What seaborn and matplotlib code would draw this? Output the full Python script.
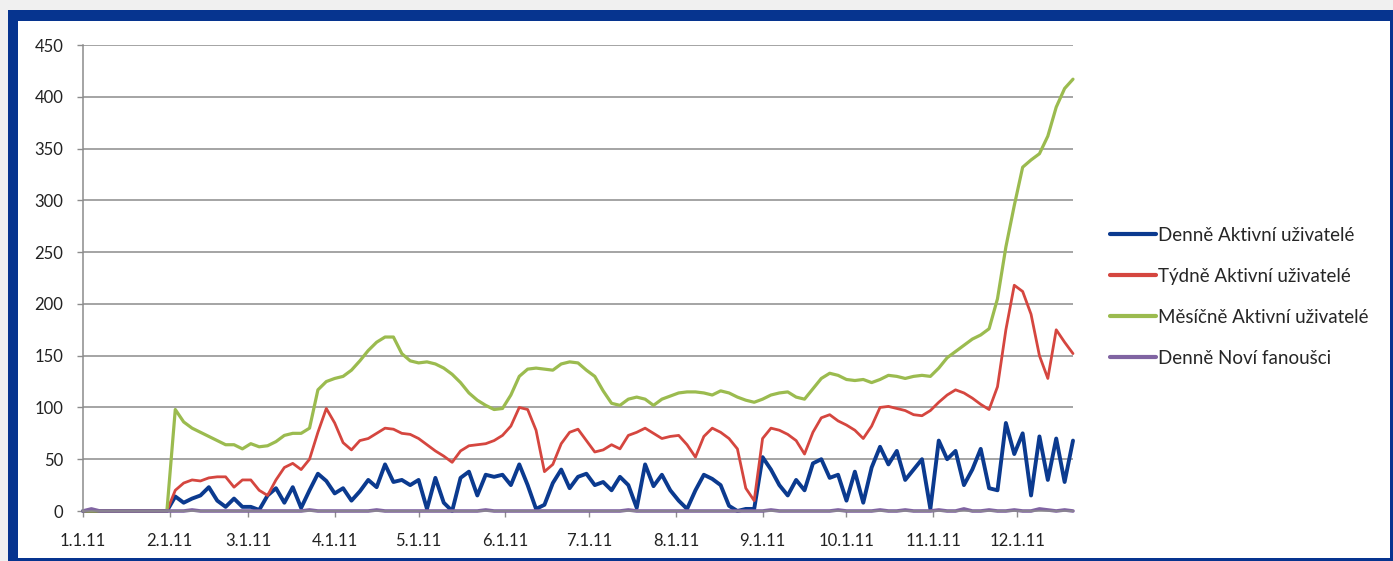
import matplotlib
matplotlib.use('Agg')
from matplotlib import pyplot as plt
from matplotlib.patches import Rectangle
import seaborn as sns
import pandas as pd

# values every 3 days, 1.1.2011 - 21.12.2011
datum = pd.date_range('2011-01-01', periods=119, freq='3D')

denne_aktivni = [
    0, 0, 0, 0, 0, 0, 0, 0, 0, 0, 0,
    14, 8, 12, 15, 23, 10, 4, 12, 4, 4,
    1, 15, 22, 8, 23, 3, 20, 36, 29, 17,
    22, 10, 19, 30, 23, 45, 28, 30, 25, 30,
    2, 32, 8, 0, 32, 38, 15, 35, 33, 35,
    25, 45, 25, 2, 6, 27, 40, 22, 33, 36,
    25, 28, 20, 33, 25, 3, 45, 24, 35, 20,
    10, 2, 20, 35, 31, 25, 5, 0, 2, 2,
    52, 40, 25, 15, 30, 20, 46, 50, 32, 35,
    10, 38, 8, 42, 62, 45, 58, 30, 40, 50,
    2, 68, 50, 58, 25, 40, 60, 22, 20, 85,
    55, 75, 15, 72, 30, 70, 28, 68,
]

tydne_aktivni = [
    0, 0, 0, 0, 0, 0, 0, 0, 0, 0, 0,
    20, 27, 30, 29, 32, 33, 33, 23, 30, 30,
    20, 15, 30, 42, 46, 40, 50, 76, 99, 85,
    66, 59, 68, 70, 75, 80, 79, 75, 74, 70,
    64, 58, 53, 47, 58, 63, 64, 65, 68, 73,
    82, 100, 98, 78, 38, 45, 65, 76, 79, 68,
    57, 59, 64, 60, 73, 76, 80, 75, 70, 72,
    73, 64, 52, 72, 80, 76, 70, 60, 22, 10,
    70, 80, 78, 74, 68, 55, 76, 90, 93, 87,
    83, 78, 70, 82, 100, 101, 99, 97, 93, 92,
    97, 105, 112, 117, 114, 109, 103, 98, 120, 175,
    218, 212, 190, 150, 128, 175, 163, 152,
]

mesicne_aktivni = [
    0, 0, 0, 0, 0, 0, 0, 0, 0, 0, 0,
    98, 86, 80, 76, 72, 68, 64, 64, 60, 65,
    62, 63, 67, 73, 75, 75, 80, 117, 125, 128,
    130, 136, 145, 155, 163, 168, 168, 152, 145, 143,
    144, 142, 138, 132, 124, 114, 107, 102, 98, 99,
    112, 130, 137, 138, 137, 136, 142, 144, 143, 136,
    130, 116, 104, 102, 108, 110, 108, 102, 108, 111,
    114, 115, 115, 114, 112, 116, 114, 110, 107, 105,
    108, 112, 114, 115, 110, 108, 118, 128, 133, 131,
    127, 126, 127, 124, 127, 131, 130, 128, 130, 131,
    130, 138, 148, 154, 160, 166, 170, 176, 205, 255,
    295, 332, 339, 345, 362, 390, 408, 417,
]

denne_novi = [
    0, 2, 0, 0, 0, 0, 0, 0, 0, 0, 0,
    0, 0, 1, 0, 0, 0, 0, 0, 0, 0,
    0, 0, 0, 0, 0, 0, 1, 0, 0, 0,
    0, 0, 0, 0, 1, 0, 0, 0, 0, 0,
    0, 0, 0, 0, 0, 0, 0, 1, 0, 0,
    0, 0, 0, 0, 0, 0, 0, 0, 0, 0,
    0, 0, 0, 0, 1, 0, 0, 0, 0, 0,
    0, 0, 0, 0, 0, 0, 0, 0, 0, 0,
    0, 1, 0, 0, 0, 0, 0, 0, 0, 1,
    0, 0, 0, 0, 1, 0, 0, 1, 0, 0,
    0, 1, 0, 0, 2, 0, 0, 1, 0, 0,
    1, 0, 0, 2, 1, 0, 1, 0,
]

nazvy = ['Denně Aktivní uživatelé', 'Týdně Aktivní uživatelé',
         'Měsíčně Aktivní uživatelé', 'Denně Noví fanoušci']
barvy = ['#0B3A8F', '#D5463F', '#9BBB4F', '#8064A2']
tloustky = [2.8, 2.0, 2.3, 2.6]

mesice = pd.date_range('2011-01-01', periods=12, freq='MS')
mesice_popisky = ['1.1.11', '2.1.11', '3.1.11', '4.1.11', '5.1.11', '6.1.11',
                  '7.1.11', '8.1.11', '9.1.11', '10.1.11', '11.1.11', '12.1.11']

sns.set_style('white')
plt.rcParams['font.family'] = ['Lato', 'DejaVu Sans']

W, H = 1393, 561
fig = plt.figure(figsize=(W / 100, H / 100), dpi=100)
fig.patch.set_facecolor('#F0F0F0')
fig.patches.append(Rectangle((8 / W, 0), (W - 8) / W, 551 / H, transform=fig.transFigure,
                             facecolor='#06348F', edgecolor='none', zorder=-3))
fig.patches.append(Rectangle((18 / W, 3 / H), (1390 - 18) / W, 537 / H, transform=fig.transFigure,
                             facecolor='white', edgecolor='none', zorder=-2))

ax = fig.add_axes([83 / W, 50 / H, (1073 - 83) / W, 466 / H])
ax.set_facecolor('white')

serie = [denne_aktivni, tydne_aktivni, mesicne_aktivni, denne_novi]
for hodnoty, nazev, barva, lw in zip(serie, nazvy, barvy, tloustky):
    df = pd.DataFrame({'datum': datum, 'hodnota': hodnoty})
    sns.lineplot(data=df, x='datum', y='hodnota', color=barva, linewidth=lw, label=nazev, ax=ax)
for line in ax.get_lines():
    line.set_clip_on(False)

ax.set_xlim(pd.Timestamp('2011-01-01'), datum[-1])
ax.set_ylim(0, 450)
ax.set_yticks(range(0, 451, 50))
ax.set_xticks(mesice)
ax.set_xticklabels(mesice_popisky)
ax.set_xlabel('')
ax.set_ylabel('')

ax.yaxis.grid(True, color='#8C8C8C', linewidth=1.1)
ax.xaxis.grid(False)
ax.set_axisbelow(True)
for s in ['top', 'right']:
    ax.spines[s].set_visible(False)
for s in ['left', 'bottom']:
    ax.spines[s].set_color('#8C8C8C')
    ax.spines[s].set_linewidth(1.1)

ax.tick_params(axis='y', length=4, color='#8C8C8C', width=1, pad=10, labelsize=12, labelcolor='#222222')
ax.tick_params(axis='x', length=4, color='#8C8C8C', width=1, pad=12, labelsize=12, labelcolor='#222222')
ax.tick_params(left=True, bottom=True)

leg = ax.legend(loc='upper left', bbox_to_anchor=(1093 / W, (561 - 210) / H),
                bbox_transform=fig.transFigure, frameon=False, fontsize=13.5,
                handlelength=2.45, handletextpad=0.1, labelspacing=1.28)
for line in leg.get_lines():
    line.set_linewidth(3)

fig.savefig('out.png', dpi=100)
